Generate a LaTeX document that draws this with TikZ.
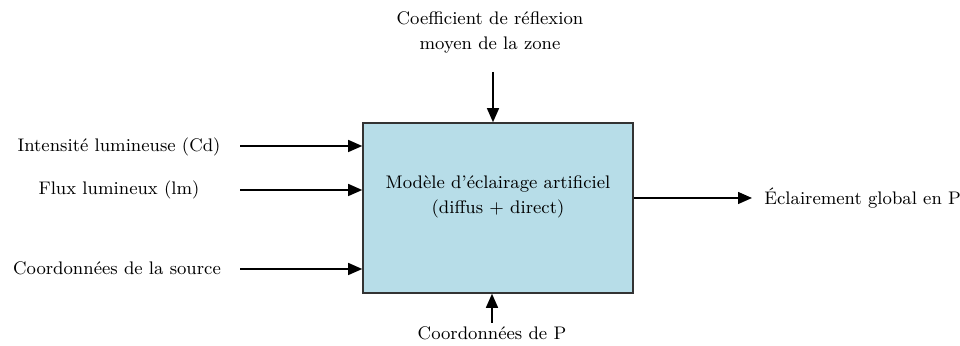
\documentclass[tikz,border=0pt]{standalone}
\usetikzlibrary{arrows.meta}
\definecolor{boxfill}{HTML}{B7DDE8}
\definecolor{boxline}{HTML}{333333}
\begin{document}
\begin{tikzpicture}[x=0.5pt,y=-0.5pt,
  lbl/.style={font=\fontsize{9.1}{11}\selectfont, align=center, inner sep=0pt},
  arr/.style={line width=0.7pt, -{Triangle[length=7pt,width=6pt]}},
  mainbox/.style={draw=boxline, line width=0.8pt, fill=boxfill, minimum width=135pt, minimum height=85pt, inner sep=0pt}]
\useasboundingbox (0,0) rectangle (960,346);
\node[mainbox] (M) at (498,208) {};
\node[lbl] (Mt) at (498,197) {Mod\`ele d'\'eclairage artificiel\\[1.5pt](diffus + direct)};
\node[lbl] (top) at (490,32) {Coefficient de r\'eflexion\\[1.5pt]moyen de la zone};
\node[lbl] (bot) at (492,333) {Coordonn\'ees de P};
\node[lbl] (l1) at (119,147) {Intensit\'e lumineuse (Cd)};
\node[lbl] (l2) at (119,190) {Flux lumineux (lm)};
\node[lbl] (l3) at (117,268) {Coordonn\'ees de la source};
\node[lbl, anchor=west] (r1) at (764,198) {\'Eclairement global en P};
\coordinate (ts) at (493,72);
\coordinate (bs) at (492,323);
\coordinate (a1) at (240,146);
\coordinate (a2) at (240,190);
\coordinate (a3) at (240,269);
\coordinate (rs) at (633,198);
\coordinate (re) at (752,198);
\draw[arr] (ts) -- (ts |- M.north);
\draw[arr] (bs) -- (bs |- M.south);
\draw[arr] (a1) -- (a1 -| M.west);
\draw[arr] (a2) -- (a2 -| M.west);
\draw[arr] (a3) -- (a3 -| M.west);
\draw[arr] (rs -| M.east) -- (re);
\end{tikzpicture}
\end{document}
